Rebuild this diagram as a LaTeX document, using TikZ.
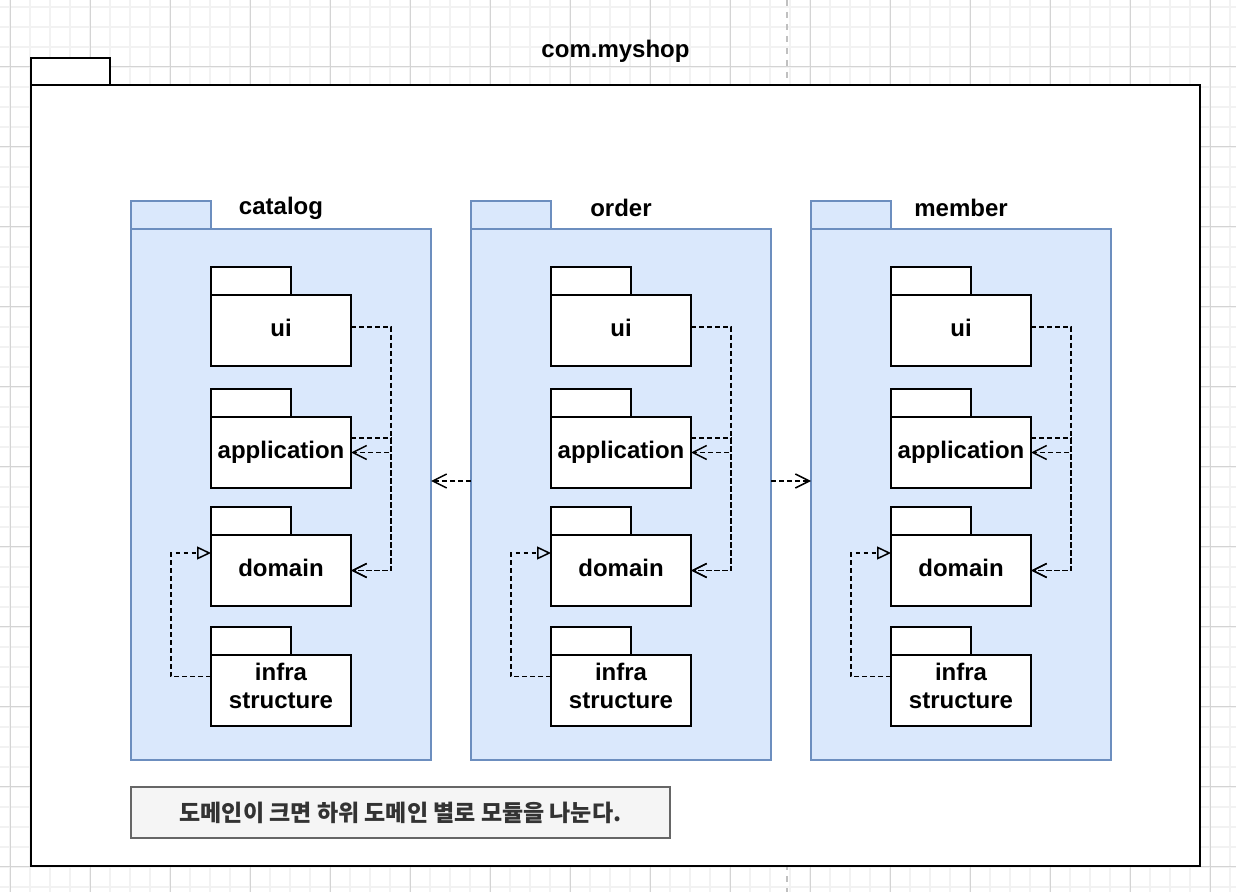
\documentclass[tikz,border=0pt]{standalone}
\usepackage{fontspec}
\setmainfont{Liberation Sans}
\newfontfamily\kofont{Noto Sans CJK KR}
\usetikzlibrary{arrows.meta}
\definecolor{gridminor}{HTML}{F2F2F2}
\definecolor{gridmajor}{HTML}{D4D4D4}
\definecolor{breakline}{HTML}{C0C0C0}
\definecolor{pkgfill}{HTML}{DAE8FC}
\definecolor{pkgline}{HTML}{6C8EBF}
\definecolor{notefill}{HTML}{F5F5F5}
\definecolor{noteline}{HTML}{666666}
\definecolor{notetext}{HTML}{333333}
\newcommand{\pkgfont}{\bfseries\fontsize{12pt}{14pt}\selectfont}
\tikzset{
  minorgrid/.style={draw=gridminor, line width=1pt},
  majorgrid/.style={draw=gridmajor, line width=0.5pt},
  pagebreak/.style={draw=breakline, line width=1pt, dash pattern=on 3pt off 3pt},
  outerpkg/.style={draw=black, fill=white, line width=1pt, inner sep=0pt, outer sep=0pt},
  subpkg/.style={draw=pkgline, fill=pkgfill, line width=0.75pt, inner sep=0pt, outer sep=0pt},
  innerpkg/.style={draw=black, fill=white, line width=1pt, inner sep=0pt, outer sep=0pt,
    minimum width=70pt, minimum height=35.5pt, align=center, font=\pkgfont,
    execute at begin node=\strut, execute at end node=\strut},
  pkglabel/.style={font=\pkgfont, inner sep=0pt},
  dep/.style={draw=black, line width=0.75pt, dash pattern=on 2.4pt off 1.6pt,
    -{Straight Barb[length=7pt,width=7pt]}},
  impl/.style={draw=black, line width=0.75pt, dash pattern=on 2.4pt off 1.6pt,
    -{Triangle[open,length=7pt,width=6.5pt]}},
  notebox/.style={draw=noteline, fill=notefill, line width=0.75pt, text=notetext,
    minimum width=269.5pt, minimum height=25.5pt, inner sep=0pt,
    font=\kofont\bfseries\fontsize{11.5pt}{14pt}\selectfont}
}

\begin{document}
\begin{tikzpicture}[x=0.5pt,y=-0.5pt]
\useasboundingbox (0,0) rectangle (1236,892);

% background grid
\foreach \k in {0,...,61} \draw[minorgrid] (10+20*\k,0) -- (10+20*\k,892);
\foreach \k in {0,...,44} \draw[minorgrid] (0,6.7+20*\k) -- (1236,6.7+20*\k);
\foreach \k in {0,...,15} \draw[majorgrid] (10+80*\k,0) -- (10+80*\k,892);
\foreach \k in {0,...,10} \draw[majorgrid] (0,66.7+80*\k) -- (1236,66.7+80*\k);
\draw[pagebreak] (787,0) -- (787,892);

% com.myshop
\draw[outerpkg] (31,58) rectangle (110,85);
\node[outerpkg, anchor=north west, minimum width=584.5pt, minimum height=390.5pt] (myshop) at (31,85) {};
\node[pkglabel] (myshop-label) at (615.5,51) {com.myshop};

% sub domains
\foreach \px/\name in {131/catalog, 471/order, 811/member}{
  \draw[subpkg] (\px,201) rectangle ++(80,28);
  \node[subpkg, anchor=north west, minimum width=150pt, minimum height=265.5pt] (\name) at (\px,229) {};
  \node[pkglabel] (\name-label) at (\px+150,208) {\name};
  \foreach \iy/\sub/\txt in {295/ui/ui, 417/app/application, 535/dom/domain, 655/infra/{infra\\structure}}{
    \draw[innerpkg] (\px+80,\iy-28) rectangle ++(80,28);
    \node[innerpkg, anchor=north west] (\name-\sub) at (\px+80,\iy) {\txt};
  }
  \draw[dep] ([yshift=1.75pt]\name-ui.east) -- ++(40,0) |- (\name-app.east);
  \draw[dep] ([yshift=1.75pt]\name-ui.east) -- ++(40,0) |- (\name-dom.east);
  \draw[dep] ([yshift=7.25pt]\name-app.east) -- ++(40,0) |- (\name-dom.east);
  \draw[impl] ([yshift=7pt]\name-infra.west) -- ++(-40,0) |- ([yshift=8.75pt]\name-dom.west);
}

% order uses catalog and member
\draw[dep] ([yshift=6.75pt]order.west) -- ([yshift=6.75pt]catalog.east);
\draw[dep] ([yshift=6.75pt]order.east) -- ([yshift=6.75pt]member.west);

% note
\node[notebox] (note) at (400.5,812.5) {도메인이 크면 하위 도메인 별로 모듈을 나눈다.};
\end{tikzpicture}
\end{document}
